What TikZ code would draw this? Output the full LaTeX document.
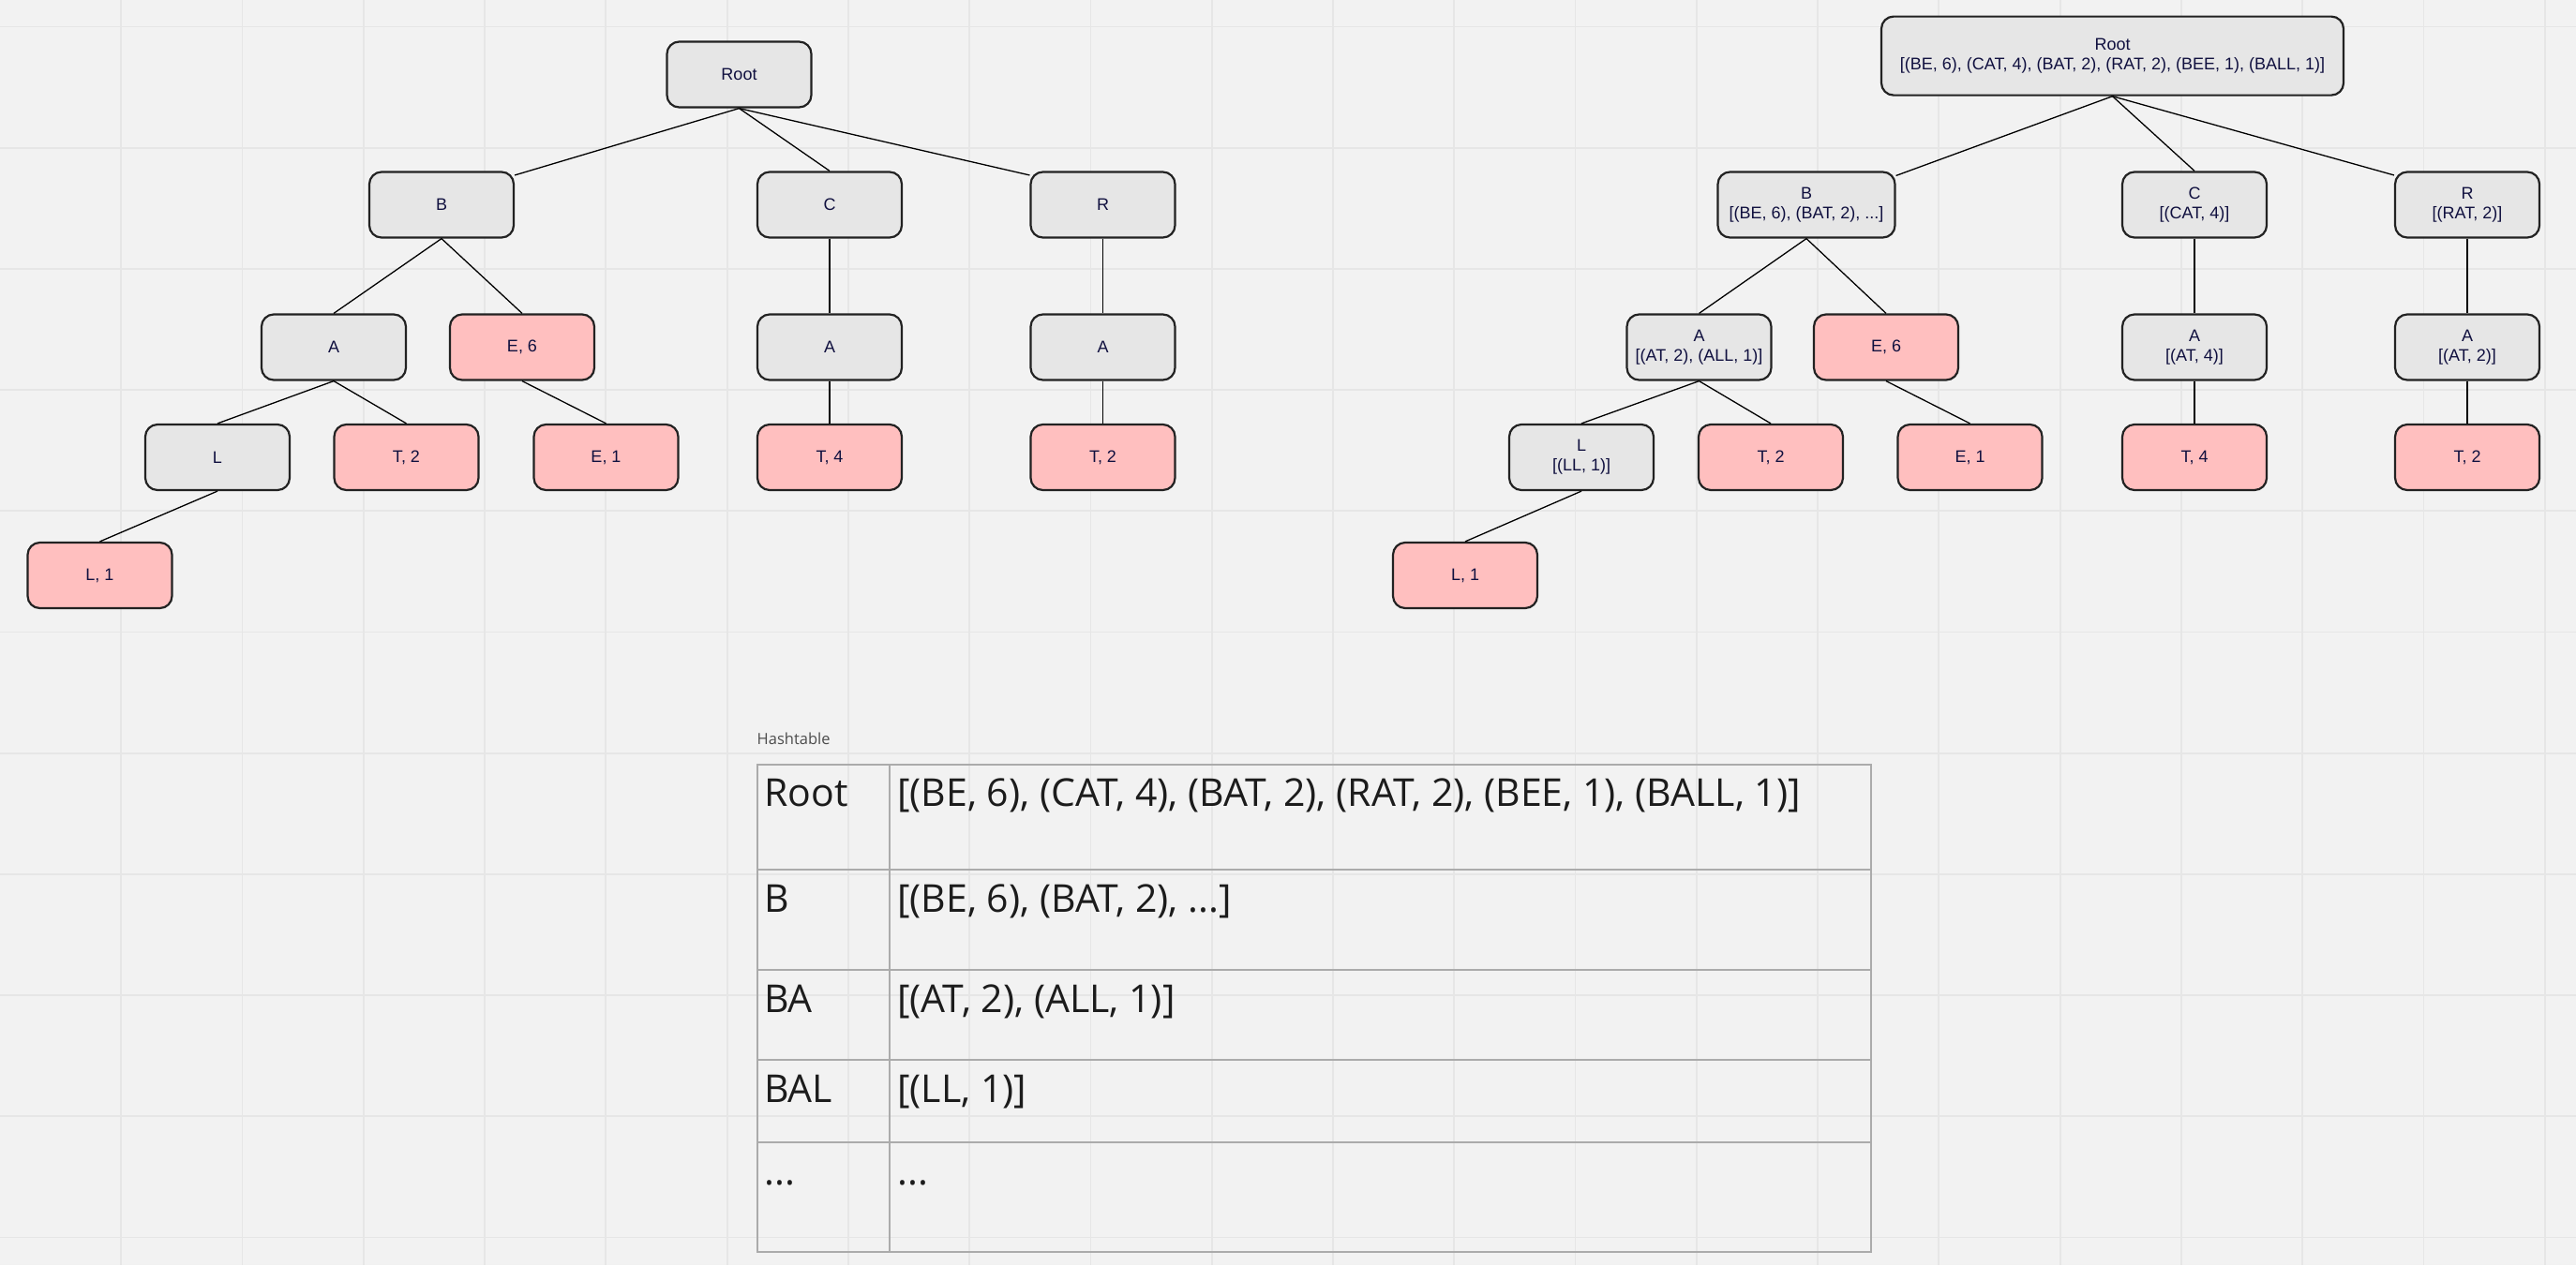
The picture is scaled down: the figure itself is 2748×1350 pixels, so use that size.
\documentclass[tikz,border=0pt]{standalone}
\usepackage{fontspec}
\newfontfamily\nodefont{Liberation Sans}
\newfontfamily\tabfont{Open Sans}
\definecolor{bg}{HTML}{F2F2F2}
\definecolor{gridc}{HTML}{E6E6E6}
\definecolor{graybox}{HTML}{E6E6E6}
\definecolor{pinkbox}{HTML}{FFBFBF}
\definecolor{navy}{HTML}{10103F}
\definecolor{edgec}{HTML}{222222}
\definecolor{tabline}{HTML}{ABABAB}
\definecolor{tabtext}{HTML}{1C1C1C}
\tikzset{
  trienode/.style={draw=edgec, line width=2.2pt, rounded corners=13pt,
    minimum width=154pt, minimum height=70pt, inner sep=0pt, align=center,
    text=navy, font=\nodefont\fontsize{18}{21}\selectfont},
  midnode/.style={trienode, fill=graybox},
  leafnode/.style={trienode, fill=pinkbox},
  link/.style={line width=1.3pt, draw=black},
  cell/.style={anchor=base west, inner sep=0pt, text=tabtext,
    font=\tabfont\fontsize{41}{48}\selectfont},
  tabrule/.style={draw=tabline, line width=2pt},
  gridline/.style={draw=gridc, line width=1.8pt},
}
\begin{document}
\begin{tikzpicture}[x=1pt,y=-1pt]
\useasboundingbox (0,0) rectangle (2748,1350);
\fill[bg] (0,0) rectangle (2748,1350);
\foreach \i in {1,...,21} \draw[gridline] (\i*129.27,0) -- (\i*129.27,1350);
\foreach \j in {0,...,10} \draw[gridline] (0,28.4+\j*129.2) -- (2748,28.4+\j*129.2);

% ---------- left trie ----------
\node[midnode] (lRoot) at (788.5,79.5) {Root};
\node[midnode] (lB) at (471,218.5) {B};
\node[midnode] (lC) at (885,218.5) {C};
\node[midnode] (lR) at (1176.5,218.5) {R};
\node[midnode] (lA1) at (356,370.5) {A};
\node[leafnode] (lE6) at (557,370.5) {E, 6};
\node[midnode] (lA2) at (885,370.5) {A};
\node[midnode] (lA3) at (1176.5,370.5) {A};
\node[midnode] (lL) at (232,488) {L};
\node[leafnode] (lT2) at (433.5,488) {T, 2};
\node[leafnode] (lE1) at (646.5,488) {E, 1};
\node[leafnode] (lT4) at (885,488) {T, 4};
\node[leafnode] (lT2b) at (1176.5,488) {T, 2};
\node[leafnode] (lL1) at (106.5,614) {L, 1};

\draw[link] (lRoot.south) -- (lB.22);
\draw[link] (lRoot.south) -- (lC.north);
\draw[link] (lRoot.south) -- (lR.158);
\draw[link] (lB.south) -- (lA1.north);
\draw[link] (lB.south) -- (lE6.north);
\draw[link] (lC.south) -- (lA2.north);
\draw[link] (lR.south) -- (lA3.north);
\draw[link] (lA1.south) -- (lL.north);
\draw[link] (lA1.south) -- (lT2.north);
\draw[link] (lE6.south) -- (lE1.north);
\draw[link] (lA2.south) -- (lT4.north);
\draw[link] (lA3.south) -- (lT2b.north);
\draw[link] (lL.south) -- (lL1.north);

% ---------- right trie ----------
\node[midnode, minimum width=493pt, minimum height=84pt] (rRoot) at (2253.5,59.6)
  {Root\\{}[(BE, 6), (CAT, 4), (BAT, 2), (RAT, 2), (BEE, 1), (BALL, 1)]};
\node[midnode, minimum width=189pt] (rB) at (1927,218.5) {B\\{}[(BE, 6), (BAT, 2), ...]};
\node[midnode] (rC) at (2341,218.5) {C\\{}[(CAT, 4)]};
\node[midnode] (rR) at (2632,218.5) {R\\{}[(RAT, 2)]};
\node[midnode] (rA1) at (1812.5,370.5) {A\\{}[(AT, 2), (ALL, 1)]};
\node[leafnode] (rE6) at (2012,370.5) {E, 6};
\node[midnode] (rA2) at (2341,370.5) {A\\{}[(AT, 4)]};
\node[midnode] (rA3) at (2632,370.5) {A\\{}[(AT, 2)]};
\node[midnode] (rL) at (1687,488) {L\\{}[(LL, 1)]};
\node[leafnode] (rT2) at (1889,488) {T, 2};
\node[leafnode] (rE1) at (2101.5,488) {E, 1};
\node[leafnode] (rT4) at (2341,488) {T, 4};
\node[leafnode] (rT2b) at (2632,488) {T, 2};
\node[leafnode] (rL1) at (1563,614) {L, 1};

\draw[link] (rRoot.south) -- (rB.18);
\draw[link] (rRoot.south) -- (rC.north);
\draw[link] (rRoot.south) -- (rR.158);
\draw[link] (rB.south) -- (rA1.north);
\draw[link] (rB.south) -- (rE6.north);
\draw[link] (rC.south) -- (rA2.north);
\draw[link] (rR.south) -- (rA3.north);
\draw[link] (rA1.south) -- (rL.north);
\draw[link] (rA1.south) -- (rT2.north);
\draw[link] (rE6.south) -- (rE1.north);
\draw[link] (rA2.south) -- (rT4.north);
\draw[link] (rA3.south) -- (rT2b.north);
\draw[link] (rL.south) -- (rL1.north);

% ---------- hashtable ----------
\node[anchor=base west, inner sep=0pt, text=black!70, font=\tabfont\fontsize{16.5}{20}\selectfont]
  (title) at (807.5,794.3) {Hashtable};
\draw[tabrule] (807.5,815.5) rectangle (1996,1335.5);
\draw[tabrule] (949.3,815.5) -- (949.3,1335.5);
\foreach \y in {928.3,1035,1130.7,1219.3} \draw[tabrule] (807.5,\y) -- (1996,\y);

\node[cell] (k1) at (815,860.8) {Root};
\node[cell] (v1) at (957,860.8) {[(BE, 6), (CAT, 4), (BAT, 2), (RAT, 2), (BEE, 1), (BALL, 1)]};
\node[cell] (k2) at (815,973.6) {B};
\node[cell] (v2) at (957,973.6) {[(BE, 6), (BAT, 2), ...]};
\node[cell] (k3) at (815,1080.2) {BA};
\node[cell] (v3) at (957,1080.2) {[(AT, 2), (ALL, 1)]};
\node[cell] (k4) at (815,1176) {BAL};
\node[cell] (v4) at (957,1176) {[(LL, 1)]};
\node[cell] (k5) at (815,1264.6) {...};
\node[cell] (v5) at (957,1264.6) {...};
\end{tikzpicture}
\end{document}
